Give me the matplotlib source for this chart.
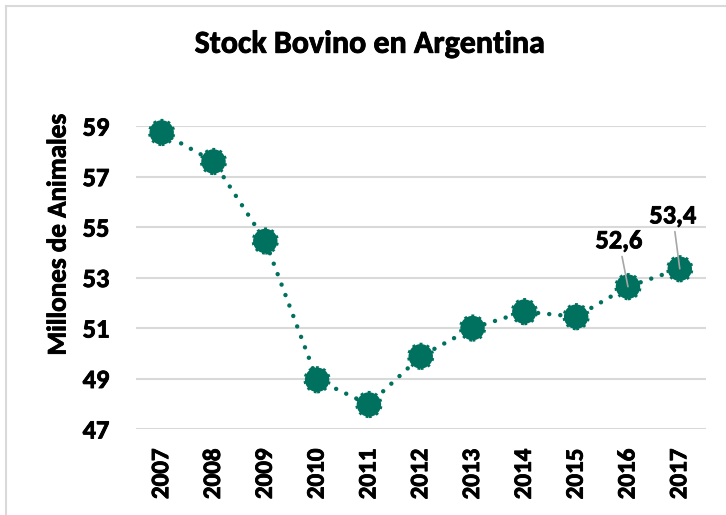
import matplotlib
matplotlib.use("Agg")
import matplotlib.pyplot as plt
import matplotlib.patheffects as pe
from matplotlib.lines import Line2D

plt.rcParams['font.family'] = ['Carlito', 'DejaVu Sans']
plt.rcParams['font.weight'] = 'bold'

# stock bovino (millones de cabezas)
years = ['2007', '2008', '2009', '2010', '2011', '2012', '2013', '2014', '2015', '2016', '2017']
stock = [58.75, 57.6, 54.45, 48.95, 47.97, 49.88, 51.0, 51.65, 51.45, 52.64, 53.35]
labeled = {9: (-6.5, 33), 10: (-5, 38)}  # index -> offset of label (points)
yticks = [47, 49, 51, 53, 55, 57, 59]

GREEN = '#00705F'
GRID = '#D9D9D9'
heavy = [pe.withStroke(linewidth=0.6, foreground='black')]

fig = plt.figure(figsize=(7.26, 5.15), dpi=100)
ax = fig.add_axes([0.187, 0.167, 0.785, 0.588])

x = list(range(len(years)))
ax.plot(x, stock, color=GREEN, lw=3.2, linestyle=(0, (0.01, 2.5)),
        dash_capstyle='round', zorder=2)
ax.scatter(x, stock, s=310, color=GREEN, edgecolors=GREEN, linewidths=2,
           linestyle=':', zorder=3, clip_on=False)

for i, off in labeled.items():
    ax.annotate(f"{stock[i]:.1f}".replace('.', ','), (x[i], stock[i]),
                xytext=off, textcoords='offset points', ha='center', va='center',
                fontsize=19, fontweight='bold', path_effects=heavy,
                arrowprops=dict(arrowstyle='-', color='#A6A6A6', lw=1.2,
                                shrinkA=1, shrinkB=0), zorder=4)

ax.set_xlim(-0.5, len(years) - 0.5)
ax.set_ylim(47, 59)
ax.set_yticks(yticks)
ax.set_xticks(x)
ax.set_xticklabels(years, rotation=90)
ax.tick_params(axis='y', length=0, pad=19, labelsize=19)
ax.tick_params(axis='x', length=0, pad=14, labelsize=18)
for lab in ax.get_xticklabels() + ax.get_yticklabels():
    lab.set_fontweight('bold')
    lab.set_path_effects(heavy)
ax.grid(axis='y', color=GRID, lw=1.5)
ax.set_axisbelow(True)
for s in ax.spines.values():
    s.set_visible(False)

fig.text(0.51, 0.915, 'Stock Bovino en Argentina', ha='center', va='center',
         fontsize=23, fontweight='bold', path_effects=heavy)
fig.text(0.08, 0.545, 'Millones de Animales', ha='center', va='center',
         rotation=90, fontsize=19.5, fontweight='bold', path_effects=heavy)

# borde del grafico
fig.add_artist(Line2D([5.5 / 726, 5.5 / 726], [0, 1 - 5.5 / 515], color=GRID,
                      lw=1.5, transform=fig.transFigure))
fig.add_artist(Line2D([5.5 / 726, 1], [1 - 5.5 / 515, 1 - 5.5 / 515], color=GRID,
                      lw=1.5, transform=fig.transFigure))

fig.savefig('out.png', dpi=100)
